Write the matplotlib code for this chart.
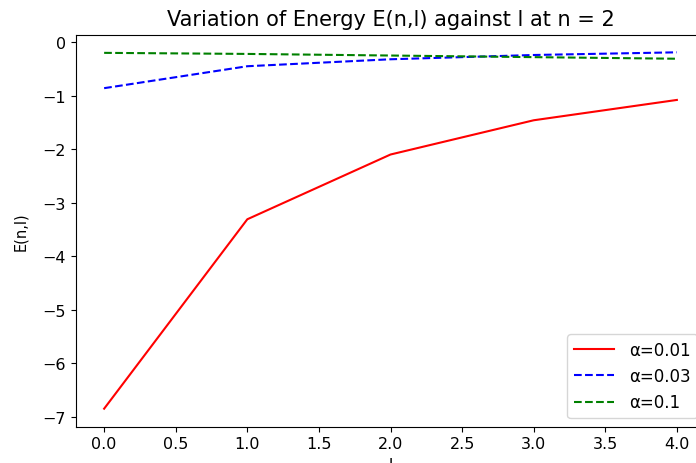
import numpy as np
import matplotlib
matplotlib.use('Agg')
import matplotlib.pyplot as plt

#-----------------------------------------------------------
l_vals=[0, 1, 2, 3, 4]
e_a001=[-6.85, -3.31, -2.10, -1.46, -1.08]
e_a003=[-0.86, -0.45, -0.32, -0.24, -0.19]
e_a01=[-0.20, -0.22, -0.25, -0.28, -0.31]
labels=['α=0.01', 'α=0.03', 'α=0.1']

#----------------------------------------------------------
fig=plt.figure(figsize=(6.96, 4.64), dpi=100)
ax=fig.add_axes([75.5/696, 1-427.5/464, 630/696, 392/464])

ax.plot(l_vals, e_a001, 'r-', label=labels[0])
ax.plot(l_vals, e_a003, 'b--', label=labels[1])
ax.plot(l_vals, e_a01, 'g--', label=labels[2])

ax.set_title('Variation of Energy E(n,l) against l at n = 2', fontsize=15, pad=7)
ax.set_xlabel('l', fontsize=11)
ax.set_ylabel('E(n,l)', fontsize=10.5, labelpad=10)
ax.set_xticks(np.arange(0, 4.01, 0.5))
ax.tick_params(labelsize=11.5)
ax.legend(loc='lower right', fontsize=12, handlelength=2.4, handletextpad=0.9)

plt.savefig('out.png', dpi=100)
plt.close()
